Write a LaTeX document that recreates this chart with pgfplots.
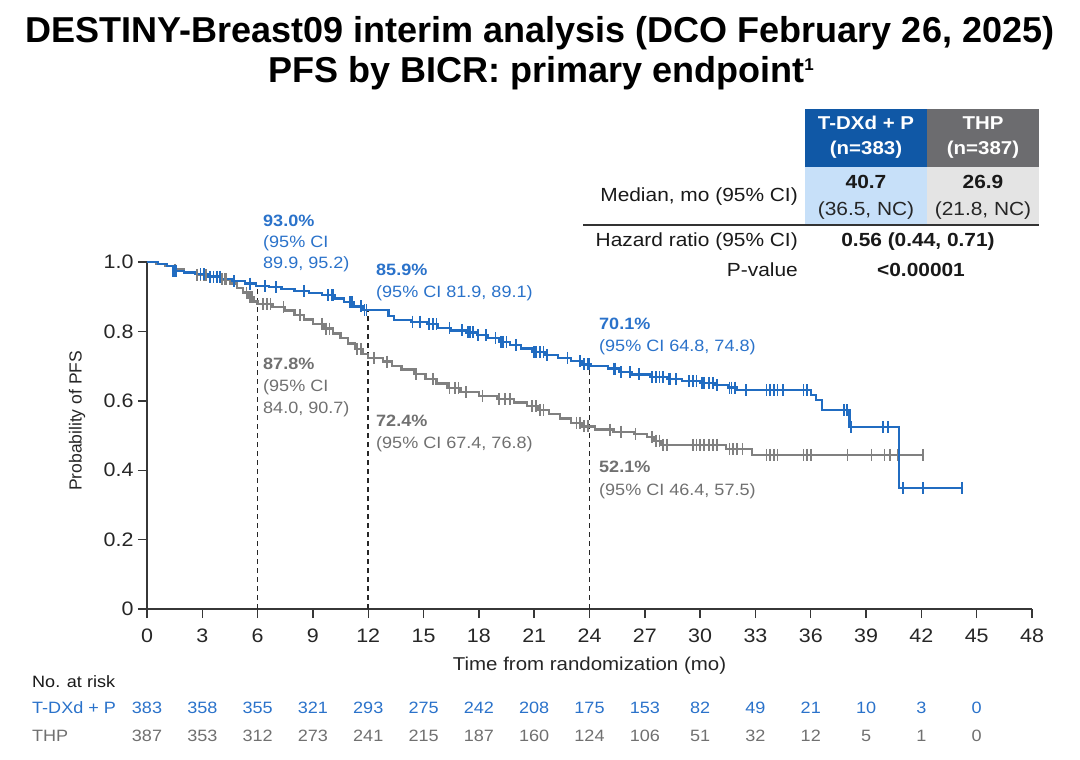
\documentclass[border=0pt]{standalone}
\usepackage{fontspec}
\setmainfont[FakeStretch=1.1]{Liberation Sans}
\newfontfamily\plainfont{Liberation Sans}
\usepackage{pgfplots}
\pgfplotsset{compat=1.18}
\definecolor{tblue}{RGB}{33,108,193}
\definecolor{txblue}{RGB}{42,114,202}
\definecolor{tgray}{RGB}{128,128,128}
\definecolor{txgray}{RGB}{112,112,112}
\definecolor{hblue}{RGB}{16,88,166}
\definecolor{hgray}{RGB}{108,108,111}
\definecolor{lblue}{RGB}{199,224,249}
\definecolor{lgray}{RGB}{228,228,228}
\definecolor{axc}{RGB}{55,55,55}
\newcommand{\fs}[1]{\fontsize{#1}{#1}\selectfont}
\begin{document}
\begin{tikzpicture}
\path[use as bounding box] (0,0) rectangle (1080pt,-760pt);
\begin{axis}[
  at={(147pt,-609pt)}, anchor=south west,
  scale only axis, width=885pt, height=347pt,
  xmin=0, xmax=48, ymin=0, ymax=1,
  axis x line=bottom, axis y line=left,
  axis line style={-, line width=1.4pt, axc},
  xtick={0,3,...,48}, ytick={0,0.2,0.4,0.6,0.8,1},
  yticklabels={0,0.2,0.4,0.6,0.8,1.0},
  tick align=outside, major tick length=9pt,
  tick style={line width=1.4pt, axc},
  ticklabel style={font=\fs{19.5}, text=black!85},
  xticklabel style={yshift=-14pt, text height=0.74em, text depth=0pt},
  yticklabel style={xshift=-1pt},
  /pgf/number format/assume math mode=true,
  xlabel={Time from randomization (mo)},
  ylabel={Probability of PFS},
  xlabel style={font=\fs{18.6}, text=black!85, at={(axis description cs:0.5,-0.1643)}, anchor=center},
  ylabel style={font=\plainfont\fs{17.5}, text=black!85, at={(axis description cs:-0.0791,0.542)}, anchor=center},
  clip=false,
]
% dashed landmark lines
\addplot[black!85, line width=1.6pt, dash pattern=on 5pt off 4pt] coordinates {(6,0) (6,0.930)};
\addplot[black!85, line width=1.6pt, dash pattern=on 5pt off 4pt] coordinates {(12,0) (12,0.859)};
\addplot[black!85, line width=1.6pt, dash pattern=on 5pt off 4pt] coordinates {(24,0) (24,0.701)};
% THP
\addplot[const plot, tgray, line width=2.3pt] coordinates {
(0,1) (0.5,0.995) (1.0,0.988) (1.4,0.978) (2.0,0.970) (2.7,0.963) (3.4,0.957) (4.0,0.950) (4.5,0.938) (4.9,0.925) (5.2,0.912) (5.5,0.898) (5.8,0.886) (6.0,0.878) (6.8,0.870) (7.5,0.860) (8.0,0.847) (8.5,0.834) (9.0,0.822) (9.6,0.808) (10.1,0.794) (10.5,0.780) (10.9,0.765) (11.3,0.750) (11.7,0.735) (12.0,0.724) (12.8,0.713) (13.3,0.700) (13.8,0.690) (14.5,0.677) (15.1,0.663) (15.7,0.650) (16.3,0.636) (17.0,0.625) (18.0,0.614) (19.0,0.605) (19.9,0.595) (20.6,0.585) (21.2,0.573) (21.8,0.561) (22.4,0.549) (23.0,0.537) (23.6,0.526) (24.3,0.517) (25.3,0.511) (26.4,0.505) (27.1,0.495) (27.5,0.485) (27.9,0.473) (31.4,0.461) (32.8,0.444) (42.1,0.444)};
\addplot[only marks, mark=|, mark size=6pt, tgray, mark options={line width=1.7pt}] coordinates {
(1.5,0.978)(2.7,0.963)(2.9,0.963)(3.1,0.963)(3.2,0.963)(4.05,0.950)(4.2,0.950)(4.3,0.950)(5.4,0.912)(5.6,0.898)(5.7,0.898)(6.3,0.878)(6.5,0.878)(6.7,0.878)(7.4,0.870)(8.3,0.847)(9.5,0.822)(9.7,0.808)(9.9,0.808)(11.4,0.750)(11.6,0.750)(12.3,0.724)(13.0,0.713)(14.6,0.677)(15.5,0.663)(16.4,0.636)(16.7,0.636)(16.9,0.636)(17.3,0.625)(18.2,0.614)(19.1,0.605)(19.4,0.605)(19.7,0.605)(20.9,0.585)(21.1,0.585)(21.3,0.573)(21.5,0.573)(23.3,0.537)(23.5,0.537)(23.7,0.526)(23.9,0.526)(25.1,0.517)(25.7,0.511)(26.5,0.505)(27.4,0.495)(27.6,0.485)(27.8,0.485)(28.0,0.473)(28.2,0.473)(29.6,0.473)(29.8,0.473)(30.0,0.473)(30.2,0.473)(30.5,0.473)(30.7,0.473)(30.9,0.473)(31.6,0.461)(31.8,0.461)(32.0,0.461)(32.3,0.461)(33.6,0.444)(33.8,0.444)(34.0,0.444)(34.2,0.444)(35.6,0.444)(35.8,0.444)(36.0,0.444)(38.0,0.444)(39.3,0.444)(40.0,0.444)(40.3,0.444)(40.7,0.444)(42.1,0.444)};
% T-DXd + P
\addplot[const plot, tblue, line width=2.3pt] coordinates {
(0,1) (0.6,0.995) (1.1,0.988) (1.4,0.975) (2.0,0.970) (2.6,0.965) (3.3,0.958) (4.0,0.951) (4.6,0.945) (5.3,0.938) (5.9,0.931) (6.6,0.927) (7.3,0.922) (8.0,0.917) (8.8,0.911) (9.5,0.904) (10.2,0.895) (10.7,0.884) (11.2,0.872) (11.7,0.861) (13.1,0.845) (13.4,0.833) (14.3,0.828) (15.2,0.821) (15.8,0.810) (16.5,0.803) (17.3,0.797) (17.9,0.789) (18.5,0.780) (19.1,0.770) (19.7,0.761) (20.3,0.751) (20.9,0.740) (21.6,0.732) (22.3,0.724) (23.0,0.714) (23.6,0.705) (24.1,0.700) (25.0,0.693) (25.6,0.682) (26.3,0.676) (27.3,0.668) (28.2,0.662) (29.0,0.657) (30.0,0.652) (30.8,0.645) (31.5,0.638) (32.0,0.631) (36.0,0.617) (36.3,0.602) (36.6,0.573) (38.1,0.525) (40.8,0.349) (44.2,0.349)};
\addplot[only marks, mark=|, mark size=6pt, tblue, mark options={line width=1.7pt}] coordinates {
(1.4,0.975)(1.5,0.975)(1.6,0.975)(2.9,0.965)(3.1,0.965)(3.4,0.958)(3.6,0.958)(3.8,0.958)(3.95,0.958)(4.7,0.945)(5.6,0.938)(6.4,0.931)(7.0,0.927)(8.5,0.917)(9.8,0.904)(10.0,0.904)(10.1,0.904)(11.0,0.884)(11.1,0.884)(11.6,0.872)(11.8,0.861)(11.9,0.861)(14.4,0.828)(14.8,0.828)(15.3,0.821)(15.5,0.821)(15.7,0.821)(16.4,0.810)(17.1,0.803)(17.4,0.797)(17.5,0.797)(17.7,0.797)(17.95,0.789)(18.4,0.789)(18.9,0.780)(19.2,0.770)(19.3,0.770)(19.5,0.770)(20.0,0.761)(21.0,0.740)(21.1,0.740)(21.3,0.740)(21.5,0.740)(21.7,0.732)(22.8,0.724)(23.5,0.714)(23.7,0.705)(23.9,0.705)(24.0,0.705)(25.3,0.693)(25.4,0.693)(25.7,0.682)(26.2,0.682)(26.7,0.676)(27.4,0.668)(27.6,0.668)(27.8,0.668)(28.0,0.668)(28.3,0.662)(28.4,0.662)(28.7,0.662)(29.4,0.657)(29.6,0.657)(29.8,0.657)(30.1,0.652)(30.2,0.652)(30.5,0.652)(30.7,0.652)(30.9,0.645)(31.6,0.638)(31.7,0.638)(31.9,0.638)(32.5,0.631)(33.6,0.631)(33.8,0.631)(34.0,0.631)(34.2,0.631)(34.5,0.631)(35.6,0.631)(35.8,0.631)(37.8,0.573)(37.95,0.573)(38.2,0.525)(39.9,0.525)(40.2,0.525)(41.0,0.349)(42.1,0.349)(44.2,0.349)};
\end{axis}
\begin{scope}[x=1pt,y=-1pt]
% title
\node[anchor=base, inner sep=0] at (540,43) {\plainfont\bfseries\fs{36}DESTINY-Breast09 interim analysis (DCO February 26, 2025)};
\node[anchor=base, inner sep=0] at (541,83) {\plainfont\bfseries\fs{36}PFS by BICR: primary endpoint\raisebox{13pt}{\fs{17}1}};
% table
\fill[hblue] (805,109) rectangle (927,167);
\fill[hgray] (927,109) rectangle (1039,167);
\fill[lblue] (805,167) rectangle (927,224);
\fill[lgray] (927,167) rectangle (1039,224);
\draw[line width=1.8pt, black!80] (583,225) -- (1039,225);
\tikzset{tc/.style={inner sep=0, text height=0.72em, text depth=0.2em, font=\fs{19}}}
\node[tc, white, font=\bfseries\fs{18.6}] at (866,127) {T-DXd + P};
\node[tc, white, font=\bfseries\fs{18.6}] at (866,152) {(n=383)};
\node[tc, white, font=\bfseries\fs{18.6}] at (983,127) {THP};
\node[tc, white, font=\bfseries\fs{18.6}] at (983,152) {(n=387)};
\node[tc, black!90, font=\bfseries\fs{19}] at (866,186) {40.7};
\node[tc, black!85] at (866,213) {(36.5, NC)};
\node[tc, black!90, font=\bfseries\fs{19}] at (983,186) {26.9};
\node[tc, black!85] at (983,213) {(21.8, NC)};
\node[tc, black!90, anchor=east] at (798,199) {Median, mo (95\% CI)};
\node[tc, black!90, anchor=east] at (798,244) {Hazard ratio (95\% CI)};
\node[tc, black!90, font=\bfseries\fs{19}] at (918,244) {0.56 (0.44, 0.71)};
\node[tc, black!90, anchor=east] at (798,274) {P-value};
\node[tc, black!90, font=\bfseries\fs{19}] at (921,274) {<0.00001};
% annotations
\tikzset{an/.style={inner sep=0, anchor=west, text height=0.72em, text depth=0.2em, font=\fs{16.4}}}
\node[an, txblue, font=\bfseries\fs{16.4}] at (263,224) {93.0\%};
\node[an, txblue] at (263,245) {(95\% CI};
\node[an, txblue] at (263,266) {89.9, 95.2)};
\node[an, txblue, font=\bfseries\fs{16.4}] at (376,273) {85.9\%};
\node[an, txblue] at (376,295) {(95\% CI 81.9, 89.1)};
\node[an, txblue, font=\bfseries\fs{16.4}] at (599,327) {70.1\%};
\node[an, txblue] at (599,349) {(95\% CI 64.8, 74.8)};
\node[an, txgray, font=\bfseries\fs{16.4}] at (263,367) {87.8\%};
\node[an, txgray] at (263,389) {(95\% CI};
\node[an, txgray] at (263,411) {84.0, 90.7)};
\node[an, txgray, font=\bfseries\fs{16.4}] at (376,424) {72.4\%};
\node[an, txgray] at (376,446) {(95\% CI 67.4, 76.8)};
\node[an, txgray, font=\bfseries\fs{16.4}] at (599,470) {52.1\%};
\node[an, txgray] at (599,493) {(95\% CI 46.4, 57.5)};
% number at risk
\node[an, black!90] at (32,685) {No. at risk};
\node[an, txblue] at (32,711) {T-DXd + P};
\node[an, txgray] at (32,739) {THP};
\foreach \n [count=\i from 0] in {383,358,355,321,293,275,242,208,175,153,82,49,21,10,3,0}
  {\node[inner sep=0, text height=0.72em, text depth=0.2em, font=\fs{16.4}, txblue] at ({147+55.3125*\i},711) {\n};}
\foreach \n [count=\i from 0] in {387,353,312,273,241,215,187,160,124,106,51,32,12,5,1,0}
  {\node[inner sep=0, text height=0.72em, text depth=0.2em, font=\fs{16.4}, txgray] at ({147+55.3125*\i},739) {\n};}
\end{scope}
\end{tikzpicture}
\end{document}
